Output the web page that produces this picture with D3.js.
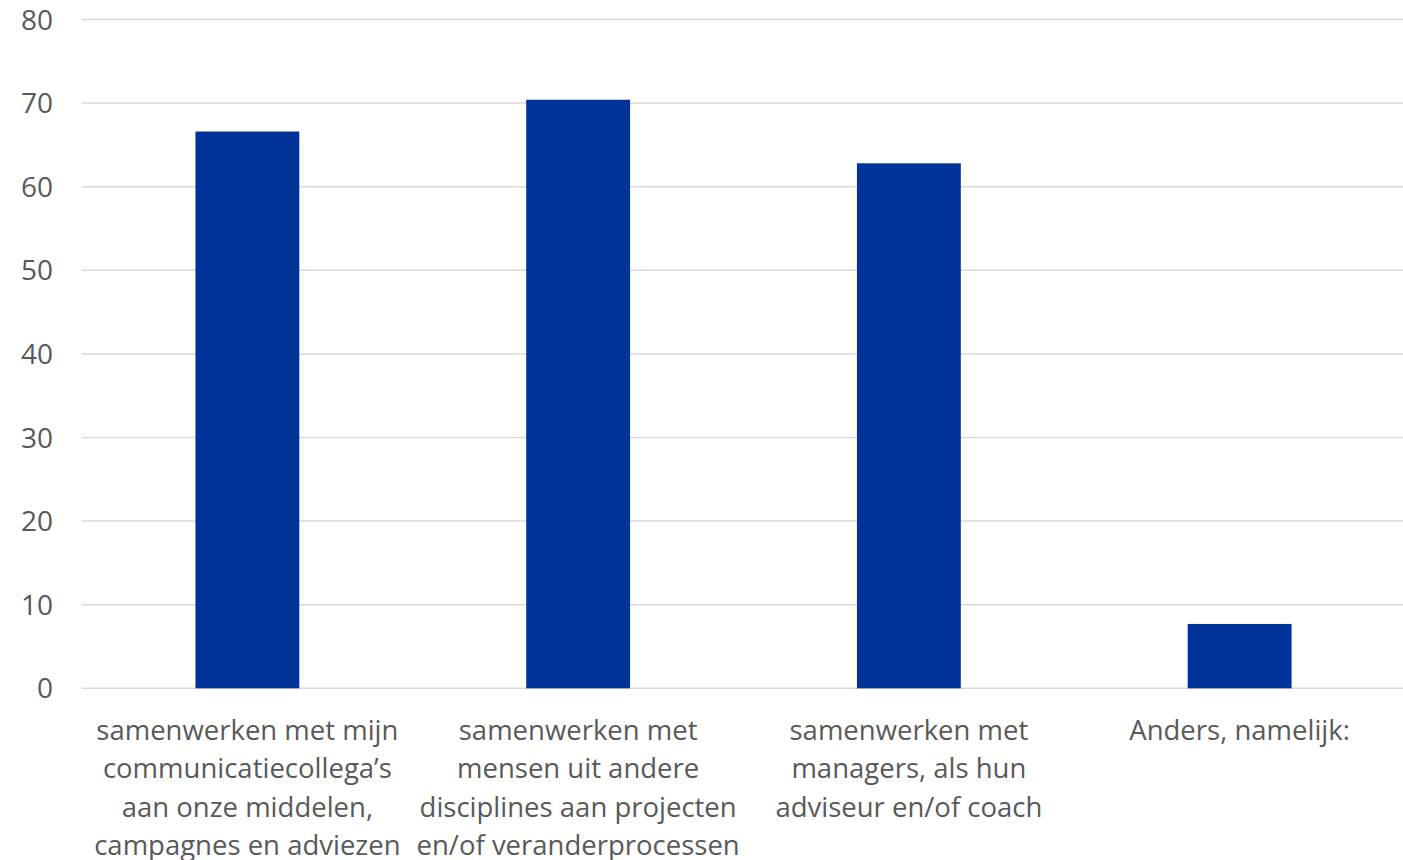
<!DOCTYPE html>
<html>
<head>
<meta charset="utf-8">
<script src="https://cdn.jsdelivr.net/npm/d3@7"></script>
<style>
  html, body { margin: 0; padding: 0; background: #fff; }
  svg { display: block; }
  text { font-family: "Open Sans", "Noto Sans", sans-serif; fill: #595959; }
</style>
</head>
<body>
<svg id="chart" width="1403" height="860"></svg>
<script>
// Category labels, split into the lines they are shown on
const categories = [
  ["samenwerken met mijn", "communicatiecollega’s", "aan onze middelen,", "campagnes en adviezen"],
  ["samenwerken met", "mensen uit andere", "disciplines aan projecten", "en/of veranderprocessen"],
  ["samenwerken met", "managers, als hun", "adviseur en/of coach"],
  ["Anders, namelijk:"]
];
const values = [66.6, 70.4, 62.8, 7.7];
const yTicks = [0, 10, 20, 30, 40, 50, 60, 70, 80];

const svg = d3.select("#chart");
const plotLeft = 82, plotRight = 1405, plotTop = 19.5, plotBottom = 688.3;

const x = d3.scaleBand()
  .domain(d3.range(values.length))
  .range([plotLeft, plotRight])
  .paddingInner(0.686)
  .paddingOuter(0.343);

const y = d3.scaleLinear().domain([0, 80]).range([plotBottom, plotTop]);

// horizontal gridlines
svg.append("g")
  .selectAll("line")
  .data(yTicks)
  .join("line")
  .attr("x1", plotLeft).attr("x2", 1403)
  .attr("y1", d => y(d)).attr("y2", d => y(d))
  .attr("stroke", "#d9d9d9")
  .attr("stroke-width", 1.5);

// y tick labels
svg.append("g")
  .selectAll("text")
  .data(yTicks)
  .join("text")
  .attr("x", 53)
  .attr("y", d => y(d))
  .attr("dy", "0.36em")
  .attr("text-anchor", "end")
  .style("font-size", "28px")
  .text(d => d);

// bars
svg.append("g")
  .selectAll("rect")
  .data(values)
  .join("rect")
  .attr("x", (d, i) => x(i))
  .attr("width", x.bandwidth())
  .attr("y", d => y(d))
  .attr("height", d => y(0) - y(d))
  .attr("fill", "#003399");

// category labels (baselines)
const lab = svg.append("g")
  .selectAll("text")
  .data(categories)
  .join("text")
  .attr("text-anchor", "middle")
  .style("font-size", "27.5px")
  .attr("x", (d, i) => x(i) + x.bandwidth() / 2);

lab.selectAll("tspan")
  .data(d => d)
  .join("tspan")
  .attr("x", function () { return d3.select(this.parentNode).attr("x"); })
  .attr("y", (d, j) => 740 + j * 38.4)
  .text(d => d);
</script>
</body>
</html>
